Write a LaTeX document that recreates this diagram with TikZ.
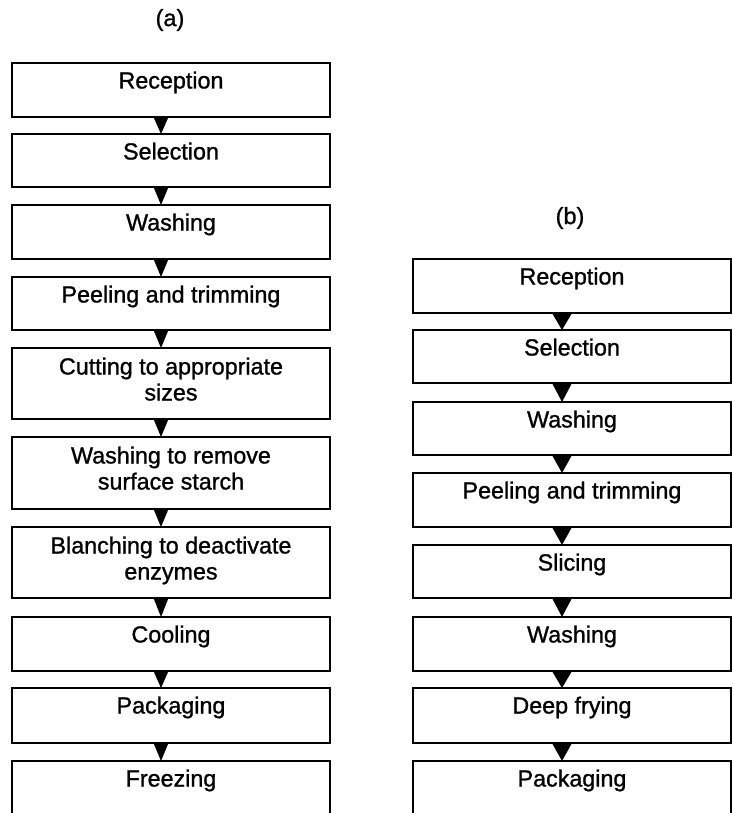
\documentclass[tikz,border=0pt]{standalone}
\usepackage{fontspec}
\setmainfont{Liberation Sans}
\newfontfamily\stepfont{Liberation Sans}[FakeBold=1.1]
\usetikzlibrary{calc}
\tikzset{
  stepbox/.style={draw=black, line width=2pt, minimum width=318pt, inner sep=0pt, outer sep=0pt},
  openbox/.style={minimum width=318pt, inner sep=0pt, outer sep=0pt},
  lbl/.style={inner sep=0pt, anchor=base, align=center, font=\stepfont\fontsize{23.3}{26}\selectfont},
  ttl/.style={inner sep=0pt, font=\stepfont\fontsize{23.5}{26}\selectfont},
  tri/.style={fill=black},
}
\newcommand{\flowtri}[3]{% from, to, half width
  \fill[tri] ($(#1.south)+(-10-#3,0)$) -- ($(#1.south)+(-10+#3,0)$) -- ($(#2.north)+(-10,0)$) -- cycle;}
\begin{document}
\begin{tikzpicture}[x=1pt,y=-1pt]
\useasboundingbox (0,0) rectangle (732,813);
% ---------- column (a) ----------
\node[ttl] (ta) at (170,20) {(a)};
\node[stepbox, minimum height=54pt] (a1) at (171,90) {};
\node[stepbox, minimum height=53pt] (a2) at (171,160.5) {};
\node[stepbox, minimum height=54pt] (a3) at (171,232) {};
\node[stepbox, minimum height=53pt] (a4) at (171,303.5) {};
\node[stepbox, minimum height=71pt] (a5) at (171,383.5) {};
\node[stepbox, minimum height=72pt] (a6) at (171,473) {};
\node[stepbox, minimum height=71pt] (a7) at (171,562.5) {};
\node[stepbox, minimum height=54pt] (a8) at (171,644) {};
\node[stepbox, minimum height=55pt] (a9) at (171,715.5) {};
\node[openbox, minimum height=54pt] (a10) at (171,788) {};
\draw[line width=2pt] (a10.south west) -- (a10.north west) -- (a10.north east) -- (a10.south east);
\node[lbl] (la1) at ($(a1.north)+(0,25.5)$) {Reception};
\node[lbl] (la2) at ($(a2.north)+(0,25.5)$) {Selection};
\node[lbl] (la3) at ($(a3.north)+(0,25.5)$) {Washing};
\node[lbl] (la4) at ($(a4.north)+(0,25.5)$) {Peeling and trimming};
\node[lbl] (la5) at ($(a5.north)+(0,52.5)$) {Cutting to appropriate\\sizes};
\node[lbl] (la6) at ($(a6.north)+(0,52.5)$) {Washing to remove\\surface starch};
\node[lbl] (la7) at ($(a7.north)+(0,52.5)$) {Blanching to deactivate\\enzymes};
\node[lbl] (la8) at ($(a8.north)+(0,25.5)$) {Cooling};
\node[lbl] (la9) at ($(a9.north)+(0,25.5)$) {Packaging};
\node[lbl] (la10) at ($(a10.north)+(0,25.5)$) {Freezing};
\flowtri{a1}{a2}{7.5}
\flowtri{a2}{a3}{7.5}
\flowtri{a3}{a4}{7.5}
\flowtri{a4}{a5}{7.5}
\flowtri{a5}{a6}{7.5}
\flowtri{a6}{a7}{7.5}
\flowtri{a7}{a8}{7.5}
\flowtri{a8}{a9}{7.5}
\flowtri{a9}{a10}{7.5}
% ---------- column (b) ----------
\node[ttl] (tb) at (570,218) {(b)};
\node[stepbox, minimum height=54pt] (b1) at (572,286) {};
\node[stepbox, minimum height=53pt] (b2) at (572,356.5) {};
\node[stepbox, minimum height=53pt] (b3) at (572,428.5) {};
\node[stepbox, minimum height=54pt] (b4) at (572,500) {};
\node[stepbox, minimum height=53pt] (b5) at (572,571.5) {};
\node[stepbox, minimum height=54pt] (b6) at (572,644) {};
\node[stepbox, minimum height=55pt] (b7) at (572,715.5) {};
\node[openbox, minimum height=54pt] (b8) at (572,788) {};
\draw[line width=2pt] (b8.south west) -- (b8.north west) -- (b8.north east) -- (b8.south east);
\node[lbl] (lb1) at ($(b1.north)+(0,25.5)$) {Reception};
\node[lbl] (lb2) at ($(b2.north)+(0,25.5)$) {Selection};
\node[lbl] (lb3) at ($(b3.north)+(0,25.5)$) {Washing};
\node[lbl] (lb4) at ($(b4.north)+(0,25.5)$) {Peeling and trimming};
\node[lbl] (lb5) at ($(b5.north)+(0,25.5)$) {Slicing};
\node[lbl] (lb6) at ($(b6.north)+(0,25.5)$) {Washing};
\node[lbl] (lb7) at ($(b7.north)+(0,25.5)$) {Deep frying};
\node[lbl] (lb8) at ($(b8.north)+(0,25.5)$) {Packaging};
\flowtri{b1}{b2}{10}
\flowtri{b2}{b3}{10}
\flowtri{b3}{b4}{10}
\flowtri{b4}{b5}{10}
\flowtri{b5}{b6}{10}
\flowtri{b6}{b7}{10}
\flowtri{b7}{b8}{10}
\end{tikzpicture}
\end{document}
